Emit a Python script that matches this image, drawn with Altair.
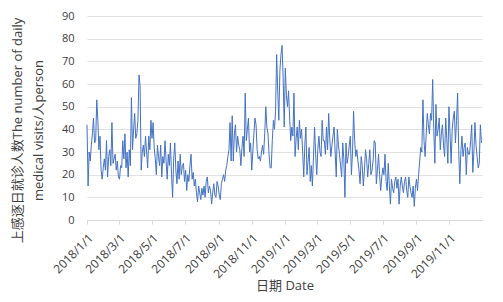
import altair as alt
import pandas as pd

# Daily upper-respiratory visits, read every 2 days from the reference
START = "2018-01-01"
STEP_DAYS = 2

jan_2018 = [42, 15, 30, 26, 33, 38, 45, 34, 35, 53, 44, 31, 37, 22, 18, 23]
feb_2018 = [27, 22, 35, 19, 28, 31, 24, 43, 25, 27, 29, 22, 26, 19]
mar_apr_2018 = [18, 24, 23, 35, 27, 38, 23, 30, 19, 31, 24, 54, 31, 40, 47, 36, 38, 44, 64, 59, 22]
apr_jul_2018 = [30, 33, 28, 37, 30, 23, 37, 31, 44, 36, 43, 32, 27, 20, 33, 28, 24, 33, 19, 28,
                25, 35, 26, 18, 29, 24, 34, 20, 10, 27, 34, 22, 16, 26, 18, 29, 20, 24, 25, 17,
                22, 13, 20, 17, 24, 29, 18, 21, 15, 18, 12, 8, 15, 12]
jul_nov_2018 = [9, 14, 11, 15, 10, 17, 19, 12, 15, 13, 7, 12, 16, 11, 10, 17, 15, 11, 9, 16,
                18, 20, 17, 22, 24, 28, 31, 43, 26, 46, 26, 38, 42, 30, 37, 33, 31, 24, 32, 37,
                28, 56, 35, 40, 45, 30, 34, 22, 30, 38, 45, 42, 31, 27, 28]
nov_2018_feb_2019 = [26, 30, 33, 29, 38, 50, 41, 38, 29, 23, 23, 35, 44, 40, 48, 73, 57, 44, 66, 73,
                     77, 63, 41, 67, 55, 50, 57, 45, 35, 41, 37, 56, 28, 36, 41, 31, 44, 36, 40, 30,
                     19, 33, 41, 20, 26, 32, 17, 24, 15, 28, 41, 29, 20]
mar_jun_2019 = [31, 37, 30, 28, 44, 35, 35, 29, 41, 31, 47, 36, 28, 33, 37, 41, 30, 19, 40, 33,
                29, 24, 19, 34, 27, 10, 34, 25, 28, 33, 37, 20, 30, 48, 35, 28, 31, 26, 22, 16,
                28, 24, 15, 22, 31, 27, 19, 25, 31, 20, 22, 26, 35, 34]
jun_sep_2019 = [16, 22, 29, 20, 13, 19, 23, 20, 29, 17, 13, 25, 15, 7, 18, 14, 12, 17, 19, 14,
                18, 7, 15, 19, 15, 12, 17, 19, 13, 10, 19, 15, 12, 10, 15, 6, 14, 18, 13, 20,
                26, 32, 30, 53, 35, 28, 38, 47, 42, 38, 47, 44, 62]
oct_dec_2019 = [40, 25, 51, 37, 40, 45, 31, 38, 42, 33, 28, 45, 36, 25, 50, 38, 25, 40, 45, 48,
                34, 44, 56, 31, 16, 30, 37, 28, 32, 34, 20, 32, 29, 29, 35, 42, 21, 30, 43, 33,
                28, 23, 25, 42, 34]

visits = (jan_2018 + feb_2018 + mar_apr_2018 + apr_jul_2018 + jul_nov_2018
          + nov_2018_feb_2019 + mar_jun_2019 + jun_sep_2019 + oct_dec_2019)

tick_months = [(2018, 1), (2018, 3), (2018, 5), (2018, 7), (2018, 9), (2018, 11),
               (2019, 1), (2019, 3), (2019, 5), (2019, 7), (2019, 9), (2019, 11)]
y_ticks = [0, 10, 20, 30, 40, 50, 60, 70, 80, 90]

dates = pd.date_range(START, periods=len(visits), freq=f"{STEP_DAYS}D")
df = pd.DataFrame({"date": dates.strftime("%Y-%m-%dT00:00:00"), "visits": visits})

tick_values = [alt.DateTime(year=y, month=m, date=1) for y, m in tick_months]

FONT = "Open Sans, Noto Sans CJK SC"

chart = alt.Chart(df).mark_line(color="#4472C4", strokeWidth=1).encode(
    x=alt.X(
        "date:T",
        scale=alt.Scale(domain=[alt.DateTime(year=2018, month=1, date=1),
                                alt.DateTime(year=2019, month=12, date=31)]),
        axis=alt.Axis(
            values=tick_values, format="%Y/%-m/%-d", labelAngle=-45,
            labelAlign="right", labelBaseline="top", labelPadding=8,
            labelFont=FONT, labelFontSize=12, labelColor="#404040",
            grid=False, domainColor="#d9d9d9", tickColor="#d9d9d9", tickSize=4,
            labelOverlap=False,
            title="日期 Date", titleFont=FONT, titleFontSize=13, titleFontWeight="normal",
            titleColor="#404040", titleY=65, titleBaseline="middle",
        ),
    ),
    y=alt.Y(
        "visits:Q",
        scale=alt.Scale(domain=[0, 90], nice=False),
        axis=alt.Axis(
            values=y_ticks, ticks=False, tickSize=0, domain=False,
            labelPadding=13, labelFont=FONT, labelFontSize=11, labelColor="#404040",
            gridColor="#d9d9d9", gridWidth=0.8,
            title=["上感逐日就诊人数The number of daily", "medical visits/人person"],
            titleFont=FONT, titleFontSize=13, titleFontWeight="normal", titleColor="#404040",
            titleAngle=-90, titleAlign="center", titleBaseline="top",
            titleX=-76, titleY=114, titleLineHeight=21,
        ),
    ),
).properties(
    width=395, height=204,
    autosize=alt.AutoSizeParams(type="none"),
    padding={"left": 79, "top": 8, "right": 10, "bottom": 74},
).configure_view(strokeWidth=0)

chart.save("out.html", embed_options={"renderer": "svg", "actions": False})
